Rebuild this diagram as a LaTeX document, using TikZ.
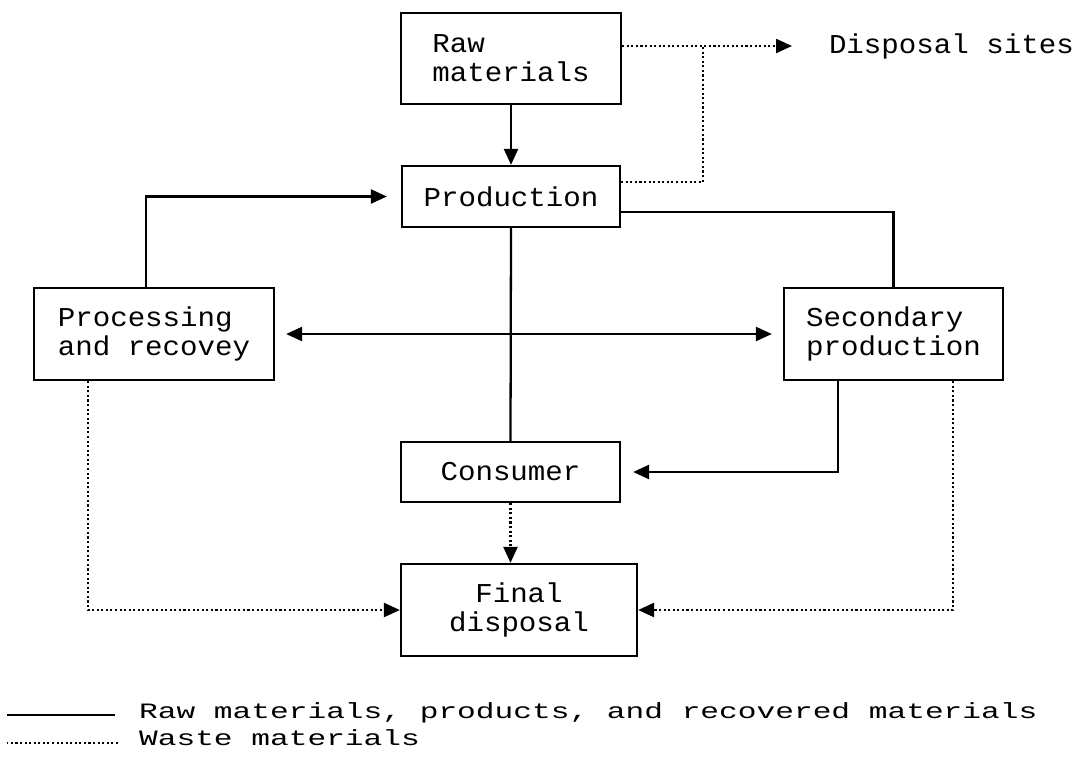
\documentclass[tikz,border=0pt]{standalone}
\usepackage{fontspec}
\setmainfont{Liberation Mono}
\newfontfamily\boxfont[FakeStretch=1.07]{Liberation Mono}
\newfontfamily\keyfont[FakeStretch=1.42]{Liberation Mono}
\usetikzlibrary{arrows.meta}
\begin{document}
\begin{tikzpicture}[x=0.02cm, y=-0.02cm, line width=1.3pt,
        box/.style={draw, align=left, font=\boxfont\fontsize{15.5}{16.5}\selectfont},
        keytext/.style={anchor=base west, inner sep=0pt, font=\keyfont\fontsize{12.5}{13}\selectfont},
        waste/.style={dash pattern=on 1.2pt off 1.4pt},
        >={Triangle[length=0.32cm,width=0.28cm]}]
        \useasboundingbox (0,0) rectangle (1092,758);
        % Material and waste flows
        \node[box, minimum width=4.4cm, minimum height=1.82cm] (raw) at (511,58.5) {Raw\\materials};
        \node[box, minimum width=4.36cm, minimum height=1.22cm] (prod) at (511,196.5) {Production};
        \node[box, minimum width=4.8cm, minimum height=1.84cm] (proc) at (154,334) {Processing\\and recovey};
        \node[box, minimum width=4.38cm, minimum height=1.84cm] (sec) at (893.5,334) {Secondary\\production};
        \node[box, minimum width=4.38cm, minimum height=1.2cm] (cons) at (510.5,472) {Consumer};
        \node[box, align=center, minimum width=4.72cm, minimum height=1.84cm] (final) at (519,610) {Final\\disposal};
        \node[anchor=west, font=\boxfont\fontsize{15.5}{16.5}\selectfont] (sites) at (822,46) {Disposal sites};
        \coordinate (join) at (703,46);

        \draw[->] (raw.south) -- (prod.north);
        \draw[waste, ->, shorten >=0.6cm] (raw.east |- sites.west) -- (sites.west);
        \draw[waste] ([yshift=0.29cm]prod.east) -| (join);
        \draw ([yshift=-0.31cm]prod.east) -| (sec.north);
        \draw[->, shorten >=0.28cm] ([xshift=-0.16cm]proc.north) |- (prod.west);
        \draw[<->, shorten >=0.22cm, shorten <=0.22cm] (proc.east) -- (sec.west);
        \draw (prod.south) -- (cons.north);
        \draw[->, shorten >=0.24cm] ([xshift=-1.11cm]sec.south) |- (cons.east);
        \draw[waste, ->] (cons.south) -- (cons.south |- final.north);
        \draw[waste, ->] ([xshift=-1.32cm]proc.south) |- (final.west);
        \draw[waste, ->] ([xshift=1.19cm]sec.south) |- (final.east);

        % Key
        \node[keytext] (key1) at (138,718) {Raw materials, products, and recovered materials};
        \node[keytext] (key2) at (138,745) {Waste materials};
        \draw ([shift={(-23,-3)}]key1.base west) -- ++(-108,0);
        \draw[waste, line width=0.9pt] ([shift={(-20,-2)}]key2.base west) -- ++(-111,0);
    \end{tikzpicture}
\end{document}
